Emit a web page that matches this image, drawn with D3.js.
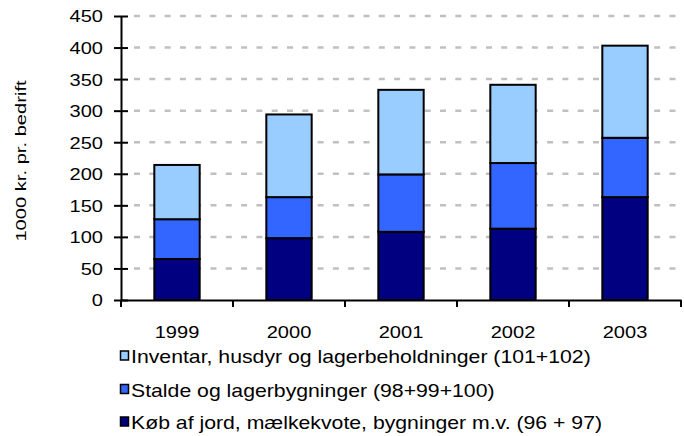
<!DOCTYPE html>
<html>
<head>
<meta charset="utf-8">
<script src="https://cdn.jsdelivr.net/npm/d3@7"></script>
<style>
  html, body { margin: 0; padding: 0; background: #fff; }
  text { font-family: Arial, "Liberation Sans", sans-serif; fill: #000; }
</style>
</head>
<body>
<svg id="chart" width="684" height="436"></svg>
<script>
// ---- Data ----
const years = ["1999", "2000", "2001", "2002", "2003"];
const koebJord = [65, 98, 108, 113, 163];          // Køb af jord, mælkekvote, bygninger m.v.
const stalde = [63, 65, 91, 104, 94];              // Stalde og lagerbygninger
const inventar = [86, 131, 134, 124, 146];         // Inventar, husdyr og lagerbeholdninger
const seriesNames = [
  "Køb af jord, mælkekvote, bygninger m.v. (96 + 97)",
  "Stalde og lagerbygninger (98+99+100)",
  "Inventar, husdyr og lagerbeholdninger (101+102)"
];
const seriesColors = ["#000080", "#3366FF", "#99CCFF"];
const yTicks = [0, 50, 100, 150, 200, 250, 300, 350, 400, 450];
const yTitle = "1000 kr. pr. bedrift";

// ---- Layout ----
const svg = d3.select("#chart");
const plotLeft = 121, plotRight = 681, plotTop = 16, plotBottom = 300;
const sx = 1.18; // horizontal stretch of the original rendering

const table = years.map((yr, i) => ({ year: yr, s0: koebJord[i], s1: stalde[i], s2: inventar[i] }));
const stack = d3.stack().keys(["s0", "s1", "s2"])(table);

const x = d3.scaleBand().domain(years).range([plotLeft, plotRight]).paddingInner(0).paddingOuter(0);
const y = d3.scaleLinear().domain([0, 450]).range([plotBottom, plotTop]);
const barW = x.bandwidth() * 0.405;

// gridlines
svg.append("g").selectAll("line").data(yTicks.filter(d => d > 0)).join("line")
  .attr("x1", plotLeft + 13).attr("x2", 684)
  .attr("y1", d => y(d)).attr("y2", d => y(d))
  .attr("stroke", "#C0C0C0").attr("stroke-width", 2.5)
  .attr("stroke-dasharray", "6,9.3");

// bars
stack.forEach((layer, li) => {
  svg.append("g").selectAll("rect").data(layer).join("rect")
    .attr("x", d => x(d.data.year) + (x.bandwidth() - barW) / 2)
    .attr("width", barW)
    .attr("y", d => y(d[1]))
    .attr("height", d => y(d[0]) - y(d[1]))
    .attr("fill", seriesColors[li])
    .attr("stroke", "#000").attr("stroke-width", 2);
});

// Y axis
const yAxis = svg.append("g").attr("transform", `translate(${plotLeft},0)`)
  .call(d3.axisLeft(y).tickValues(yTicks).tickSize(7).tickSizeOuter(0).tickFormat(d3.format("d")));
yAxis.select(".domain").attr("stroke", "#000").attr("stroke-width", 2);
yAxis.selectAll(".tick line").attr("stroke", "#000").attr("stroke-width", 2).attr("x2", 7).attr("x1", -7);
yAxis.selectAll(".tick text").remove();
yAxis.selectAll(".tick").append("text")
  .attr("text-anchor", "end")
  .attr("dy", "0.35em")
  .attr("transform", `translate(-18,0) scale(${sx},1)`)
  .style("font-size", "17px")
  .text(d => d);

// X axis
const xAxis = svg.append("g").attr("transform", `translate(0,${plotBottom})`)
  .call(d3.axisBottom(x).tickSize(0).tickSizeOuter(0));
xAxis.select(".domain").attr("stroke", "#000").attr("stroke-width", 2);
xAxis.selectAll(".tick text").remove();
xAxis.selectAll(".tick").append("text")
  .attr("text-anchor", "middle")
  .attr("transform", `translate(0,38) scale(${sx},1)`)
  .style("font-size", "17px")
  .text(d => d);
// category separator ticks
const bounds = years.map(d => x(d)).concat([x(years[years.length - 1]) + x.bandwidth()]);
xAxis.append("g").selectAll("line").data(bounds).join("line")
  .attr("x1", d => d).attr("x2", d => d).attr("y1", 0).attr("y2", 7)
  .attr("stroke", "#000").attr("stroke-width", 2);

// Y title
svg.append("text")
  .attr("text-anchor", "middle")
  .attr("transform", `translate(26,161) rotate(-90) scale(1.3,1)`)
  .style("font-size", "15.5px")
  .text(yTitle);

// Legend (reverse order, top = Inventar)
const legendOrder = [2, 1, 0];
const baselines = [363, 396.5, 429];
const lg = svg.append("g");
legendOrder.forEach((si, row) => {
  const b = baselines[row];
  lg.append("rect")
    .attr("x", 120.5).attr("y", b - 12).attr("width", 8).attr("height", 9)
    .attr("fill", seriesColors[si]).attr("stroke", "#000").attr("stroke-width", 1.5);
  lg.append("text")
    .attr("transform", `translate(131,${b}) scale(1.13,1)`)
    .style("font-size", "18.8px")
    .text(seriesNames[si]);
});
</script>
</body>
</html>
